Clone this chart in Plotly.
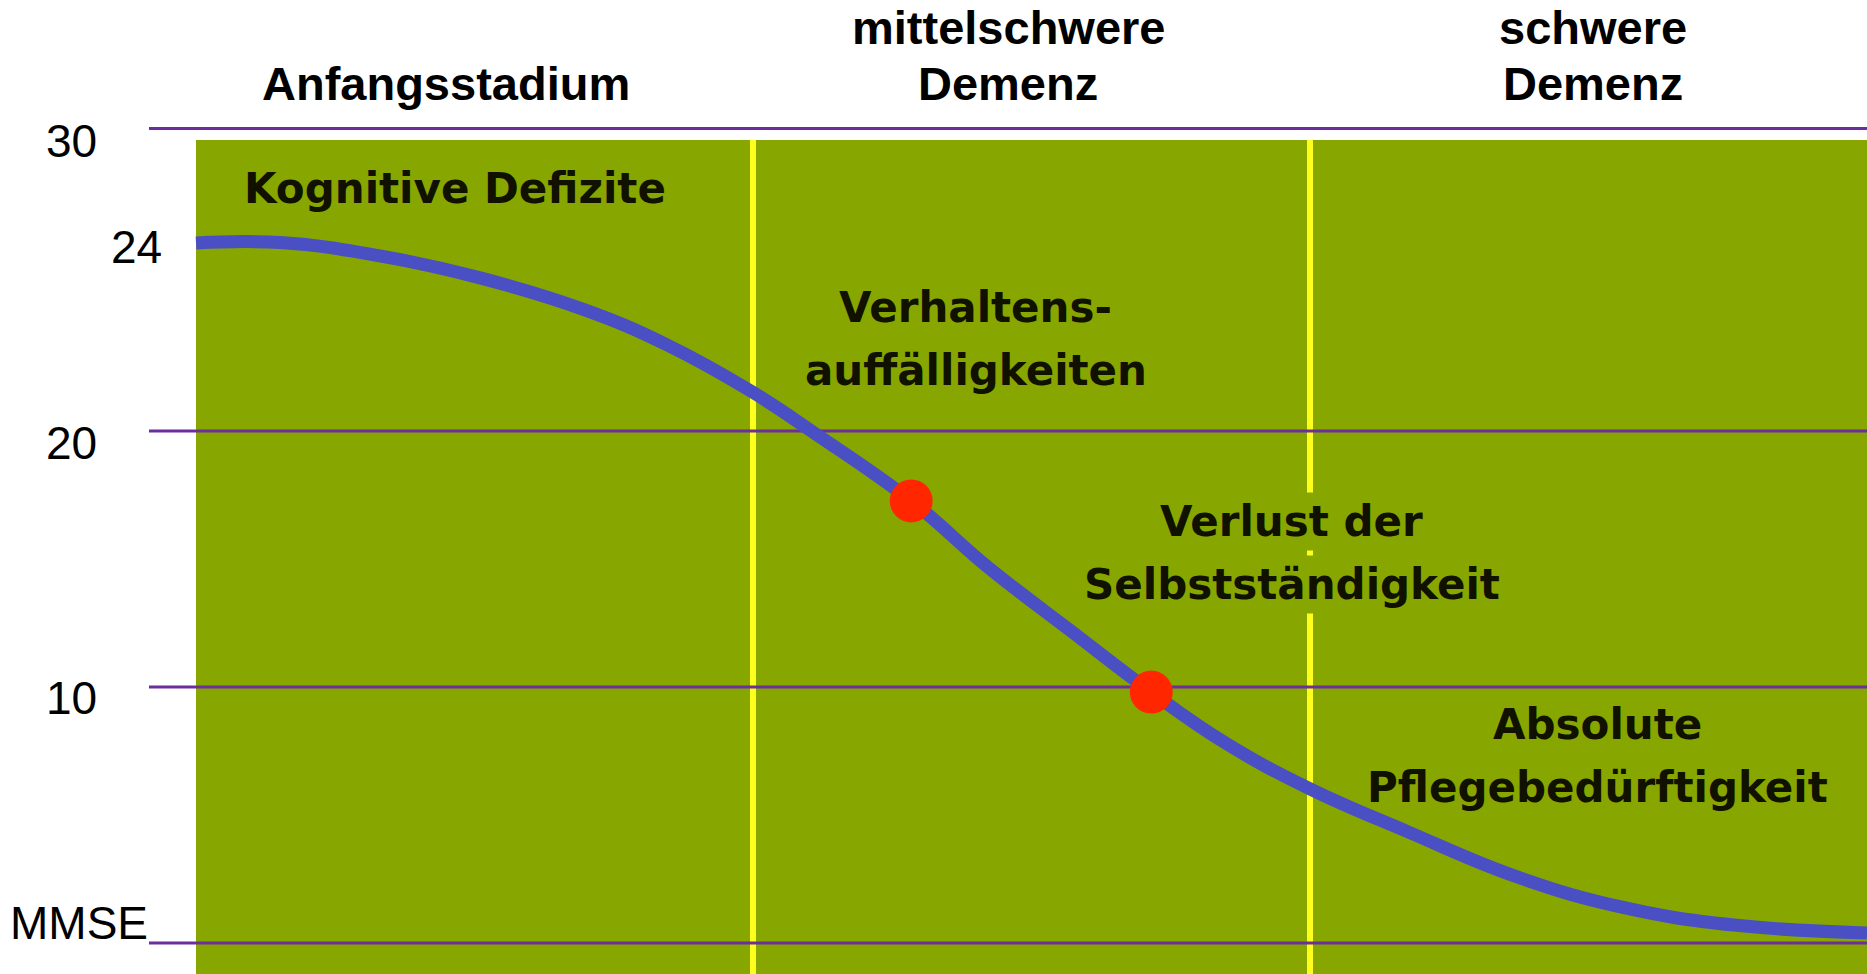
import plotly.graph_objects as go

# ---------------- data ----------------
# x: disease progression, one unit per stage (0-1 early, 1-2 moderate, 2-3 severe)
progress_x = [0, 0.151, 0.330, 0.510, 0.698, 0.846, 0.996, 1.113, 1.284, 1.422,
              1.573, 1.715, 1.849, 2.0, 2.176, 2.372, 2.566, 2.761, 3.0]
# y: schematic MMSE position of the decline curve
mmse_curve = [27.34, 27.36, 26.84, 25.98, 24.73, 23.36, 21.56, 19.88, 17.27, 14.68,
              12.15, 9.80, 7.80, 6.02, 4.34, 2.58, 1.37, 0.70, 0.39]
marker_x = [1.284, 1.715]
marker_y = [17.27, 9.80]

stage_bounds = [1, 2]
stage_end = 3
stage_headers = [["Anfangsstadium"], ["mittelschwere", "Demenz"], ["schwere", "Demenz"]]
header_x = [0.449, 1.458, 2.508]

grid_levels = [0, 10, 20, 31.82]
tick_labels = ["MMSE", "10", "20", "30"]
tick_shift = [20, -11, -12, -12.5]
curve_start_label = "24"

phase_texts = [["Kognitive Defizite"], ["Verhaltens-", "auffälligkeiten"],
               ["Verlust der", "Selbstständigkeit"], ["Absolute", "Pflegebedürftigkeit"]]
phase_x = [0.465, 1.400, 1.967, 2.516]
phase_y = [29.49, 24.84, 16.46, 8.55]

# ---------------- styling ----------------
GREEN = "#87a700"
YELLOW = "#ffff1e"
PURPLE = "#6c2e9c"
BLUE = "#4a4fc4"
RED = "#ff2600"
X_RANGE = [-0.3519, 3.0]
Y_RANGE = [-1.211, 36.836]
PANEL_TOP = 31.37
LINE_START = -0.0844
PHASE_STEP = 2.46
HEADER_STEP = 2.19
HEADER_BOTTOM = 33.59

fig = go.Figure()

shapes = []
shapes.append(dict(type="rect", xref="x", yref="y", x0=0, x1=stage_end,
                   y0=Y_RANGE[0] - 1, y1=PANEL_TOP, fillcolor=GREEN,
                   line=dict(width=0), layer="below"))
for b in stage_bounds:
    shapes.append(dict(type="line", xref="x", yref="y", x0=b, x1=b,
                       y0=Y_RANGE[0] - 1, y1=PANEL_TOP,
                       line=dict(color=YELLOW, width=6), layer="below"))
for lv in grid_levels:
    shapes.append(dict(type="line", xref="x", yref="y", x0=LINE_START, x1=stage_end,
                       y0=lv, y1=lv, line=dict(color=PURPLE, width=3), layer="below"))

fig.add_trace(go.Scatter(x=progress_x, y=mmse_curve, mode="lines",
                         line=dict(color=BLUE, width=13, shape="spline", smoothing=1.2),
                         hoverinfo="skip", showlegend=False))
fig.add_trace(go.Scatter(x=marker_x, y=marker_y, mode="markers",
                         marker=dict(color=RED, size=43, line=dict(width=0)),
                         hoverinfo="skip", showlegend=False))

ann = []
# stage headers
for hx, lines in zip(header_x, stage_headers):
    n = len(lines)
    for i, t in enumerate(lines):
        ann.append(dict(x=hx, y=HEADER_BOTTOM + (n - 1 - i) * HEADER_STEP, xref="x", yref="y",
                        text=f"<b>{t}</b>", showarrow=False, xanchor="center", yanchor="middle",
                        font=dict(family="Liberation Sans, Arial", size=47, color="black")))
# axis labels
for lv, t, sh in zip(grid_levels, tick_labels, tick_shift):
    xr = -0.0826 if t == "MMSE" else -0.174
    ann.append(dict(x=xr, y=lv, xref="x", yref="y", text=t, showarrow=False,
                    xanchor="right", yanchor="middle", yshift=sh,
                    font=dict(family="Liberation Sans, Arial", size=46, color="black")))
ann.append(dict(x=-0.0575, y=mmse_curve[0], xref="x", yref="y", text=curve_start_label,
                showarrow=False, xanchor="right", yanchor="middle", yshift=-3.5,
                font=dict(family="Liberation Sans, Arial", size=46, color="black")))
# phase texts
for px, py, lines in zip(phase_x, phase_y, phase_texts):
    cover = lines[0] == "Verlust der"
    for i, t in enumerate(lines):
        a = dict(x=px, y=py - i * PHASE_STEP, xref="x", yref="y", text=f"<b>{t}</b>",
                 showarrow=False, xanchor="center", yanchor="middle",
                 font=dict(family="DejaVu Sans", size=42, color="#111100"))
        if cover:
            a.update(bgcolor=GREEN, borderpad=4)
        ann.append(a)

fig.update_layout(
    width=1867, height=974,
    margin=dict(l=0, r=0, t=0, b=0, pad=0),
    paper_bgcolor="white", plot_bgcolor="white",
    xaxis=dict(range=X_RANGE, visible=False, fixedrange=True),
    yaxis=dict(range=Y_RANGE, visible=False, fixedrange=True),
    shapes=shapes, annotations=ann, showlegend=False,
)

fig.write_html("out.html", config={"displayModeBar": False},
               post_script="document.body.style.margin='0';document.body.style.overflow='hidden';")
